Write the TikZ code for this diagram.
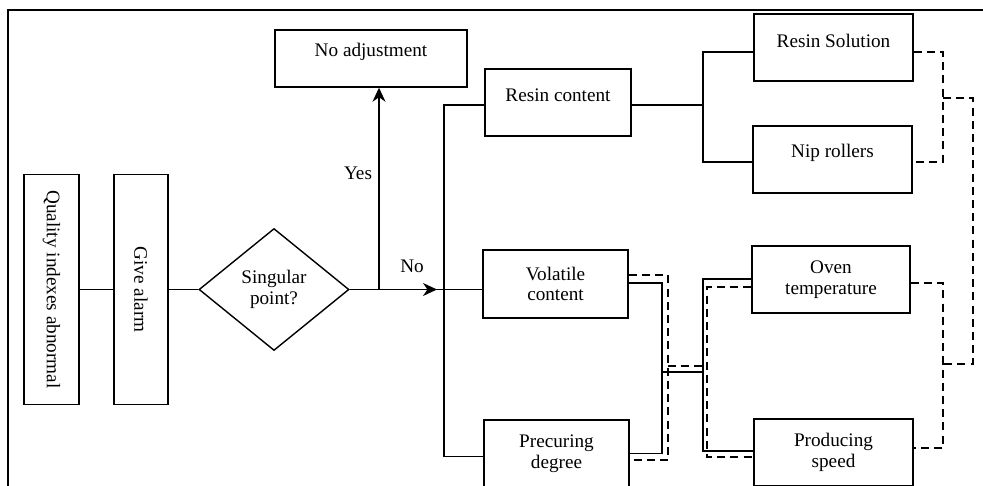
\documentclass[tikz,border=0pt]{standalone}
\usepackage{fontspec}
\setmainfont{Liberation Serif}
\usepackage{graphicx}
\usetikzlibrary{shapes.geometric,arrows.meta}

% lift a one-line label towards the top of its box without changing its size
\newcommand{\liftlabel}[1]{\raisebox{3.5pt}[\height][\depth]{#1}}

\tikzset{
  txt/.style={font=\fontsize{9.6}{10.3}\selectfont},
  box/.style={txt, draw, line width=0.7pt, inner sep=0pt, align=center},
  decision/.style={txt, draw, line width=0.7pt, diamond, inner sep=0pt,
    minimum width=75pt, minimum height=61pt, align=center},
  link/.style={line width=0.6pt},
  dlink/.style={line width=0.6pt, dash pattern=on 4pt off 2.6pt},
  tip/.style={-{Stealth[length=7pt,width=6.5pt,inset=2.2pt]}},
  lbl/.style={txt, inner sep=0pt}
}

\begin{document}
\begin{tikzpicture}[x=0.5pt,y=-0.5pt]
\useasboundingbox (0,0) rectangle (983,486);
\clip (0,0) rectangle (983,486);

% outer frame
\draw[line width=1pt] (8,10) rectangle (1000,520);

% left chain
\node[box, minimum width=27.5pt, minimum height=115pt] (qa) at (51.5,289.5)
  {\rotatebox{-90}{Quality indexes abnormal}};
\node[box, minimum width=27pt, minimum height=115pt] (ga) at (141,289.5)
  {\rotatebox{-90}{Give alarm}};
\node[decision] (dia) at (274,289.5) {Singular\\point?};
\node[box, minimum width=96pt, minimum height=28.5pt] (noadj) at (371,58.5)
  {\liftlabel{No adjustment}};

% quality indexes
\node[box, minimum width=73pt, minimum height=33.5pt] (rc) at (558,102.5)
  {\liftlabel{Resin content}};
\node[box, minimum width=72.5pt, minimum height=34pt] (vc) at (555.5,284)
  {Volatile\\content};
\node[box, minimum width=72.5pt, minimum height=33.5pt] (pd) at (556.5,453.5)
  {Precuring\\degree};

% process parameters
\node[box, minimum width=79.5pt, minimum height=33.5pt] (rs) at (833.5,47.5)
  {\liftlabel{Resin Solution}};
\node[box, minimum width=79.5pt, minimum height=33.5pt] (nr) at (832.5,159.5)
  {\liftlabel{Nip rollers}};
\node[box, minimum width=79pt, minimum height=33.5pt] (ot) at (831,279.5)
  {Oven\\temperature};
\node[box, minimum width=79.5pt, minimum height=33.5pt] (ps) at (833.5,452.5)
  {Producing\\speed};

% branch labels
\node[lbl] (yes) at (358,173) {Yes};
\node[lbl] (no) at (412,266) {No};

% main flow
\draw[link] (qa) -- (ga);
\draw[link] (ga) -- (dia);
\draw[link] (dia.east) -- (dia.east -| vc.west);
\coordinate (notip) at (437,289.5);
\draw[link, tip] (dia.east) -- (notip);
\coordinate (yesroot) at (379,289.5);
\draw[link, tip] (yesroot) -- (yesroot |- noadj.south);

% trunk to the three indexes
\coordinate (trunk) at (444,289.5);
\draw[link] ([yshift=-1.25pt]rc.west) -| (trunk) |- ([yshift=-1.5pt]pd.west);

% resin content branch
\coordinate (rbr) at (703,105);
\draw[link] ([yshift=-1.25pt]rc.east) -- (rbr);
\draw[link] ([yshift=-2.25pt]rs.west) -| (rbr) |- ([yshift=-1.25pt]nr.west);

% volatile content / precuring degree, solid links
\coordinate (ms) at (662,372);
\coordinate (ms2) at (703,372);
\draw[link] ([yshift=0.5pt]vc.east) -| (ms) |- (pd.east);
\draw[link] (ms) -- (ms2);
\draw[link] ([yshift=0.25pt]ot.west) -| (ms2) |- ([yshift=0.75pt]ps.west);

% volatile content / precuring degree, dashed links
\coordinate (md) at (668,366);
\coordinate (md2) at (707,366);
\draw[dlink] ([yshift=4.5pt]vc.east) -| (md) |- ([yshift=-3.25pt]pd.east);
\draw[dlink] (md) -- (md2);
\draw[dlink] ([yshift=-3.75pt]ot.west) -| (md2) |- ([yshift=-2.25pt]ps.west);

% dashed couplings on the right
\coordinate (rd1) at (943,98);
\coordinate (rd2) at (973,98);
\coordinate (rd3) at (973,364);
\coordinate (rd4) at (943,364);
\draw[dlink] ([yshift=-2.25pt]rs.east) -| (rd1) |- ([yshift=-1.25pt]nr.east);
\draw[dlink] (rd1) -- (rd2) -- (rd3) -- (rd4);
\draw[dlink] ([yshift=-1.75pt]ot.east) -| (rd4) |- ([yshift=2.25pt]ps.east);
\end{tikzpicture}
\end{document}
